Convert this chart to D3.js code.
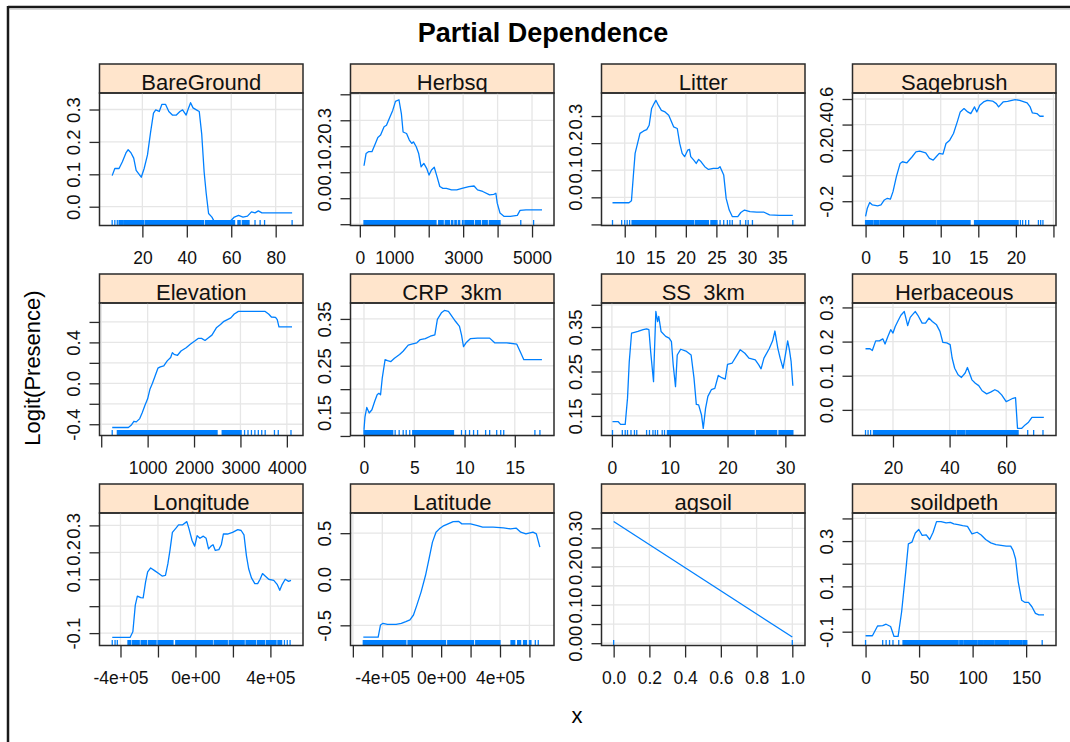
<!DOCTYPE html>
<html>
<head>
<meta charset="utf-8">
<script src="https://cdn.jsdelivr.net/npm/d3@7"></script>
<style>
  body { margin: 0; background: #fff; }
  svg { display: block; font-family: "Liberation Sans", Arial, sans-serif; }
</style>
</head>
<body>
<div id="chart"></div>
<script>
// ---- data ----
const panelNames = ["BareGround", "Herbsq", "Litter", "Sagebrush",
                    "Elevation", "CRP  3km", "SS  3km", "Herbaceous",
                    "Longitude", "Latitude", "agsoil", "soildpeth"];

const bareGroundCurve = [[6.4,0.096],[7.6,0.118],[9.5,0.118],[11,0.139],[12.6,0.166],[13.6,0.176],[14.9,0.166],[16.1,0.150],[17.2,0.112],[18.3,0.102],[19.5,0.091],[20.8,0.118],[22.3,0.160],[23.7,0.230],[25,0.289],[26,0.299],[27.6,0.294],[28.8,0.316],[30.4,0.316],[31.9,0.294],[33.5,0.283],[35.3,0.283],[36.9,0.294],[38.1,0.299],[39.7,0.283],[40.8,0.305],[41.7,0.321],[42.8,0.305],[44.3,0.299],[45.6,0.294],[46.7,0.225],[47.8,0.107],[48.7,0.043],[49.8,-0.021],[51.3,-0.032],[52.9,-0.053],[54.4,-0.046],[56,-0.051],[57.5,-0.053],[59.1,-0.048],[61.4,-0.032],[63.3,-0.027],[65.3,-0.032],[67.3,-0.029],[69.1,-0.016],[70.7,-0.019],[72.2,-0.013],[73.8,-0.019],[87.4,-0.019]];
const herbsqCurve = [[121,0.125],[181,0.172],[251,0.179],[352,0.179],[452,0.211],[523,0.234],[603,0.243],[704,0.275],[774,0.281],[874,0.313],[955,0.338],[1035,0.373],[1136,0.379],[1206,0.326],[1256,0.255],[1357,0.249],[1437,0.224],[1508,0.211],[1558,0.217],[1638,0.198],[1709,0.172],[1779,0.121],[1859,0.134],[1940,0.115],[2010,0.089],[2080,0.109],[2161,0.119],[2241,0.083],[2322,0.045],[2412,0.038],[2513,0.038],[2663,0.032],[2814,0.032],[2965,0.038],[3166,0.045],[3317,0.047],[3417,0.032],[3568,0.026],[3769,0.013],[3889,0.015],[3950,0.019],[3990,-0.019],[4070,-0.057],[4191,-0.070],[4372,-0.070],[4573,-0.066],[4653,-0.047],[4824,-0.045],[5290,-0.045]];
const litterCurve = [[8.0,-0.020],[10.7,-0.020],[11.1,-0.013],[11.4,0.076],[11.7,0.162],[12.1,0.199],[12.5,0.236],[13.1,0.245],[13.6,0.250],[14.0,0.266],[14.4,0.328],[14.8,0.346],[15.1,0.358],[15.5,0.340],[16.0,0.321],[16.6,0.315],[17.2,0.303],[17.6,0.282],[18.0,0.260],[18.6,0.254],[19.0,0.199],[19.4,0.162],[19.8,0.150],[20.3,0.174],[20.6,0.177],[20.8,0.150],[21.3,0.137],[21.7,0.125],[22.1,0.140],[22.5,0.131],[23.1,0.113],[23.7,0.103],[24.5,0.107],[25.3,0.107],[25.6,0.113],[26.2,0.082],[26.6,-0.004],[27.1,-0.047],[27.6,-0.071],[28.5,-0.071],[29.0,-0.056],[29.6,-0.047],[30.5,-0.053],[31.6,-0.055],[32.8,-0.055],[33.7,-0.065],[35.3,-0.067],[37.5,-0.067]];
const sagebrushCurve = [[0,-0.319],[0.23,-0.255],[0.55,-0.210],[0.91,-0.229],[1.6,-0.236],[2.05,-0.229],[2.5,-0.190],[2.9,-0.177],[3.3,-0.184],[3.65,-0.125],[4.1,-0.008],[4.6,0.096],[4.9,0.109],[5.5,0.101],[6.2,0.148],[6.7,0.187],[7.2,0.192],[8.0,0.179],[8.5,0.135],[9.0,0.122],[9.4,0.148],[9.8,0.174],[10.3,0.169],[10.7,0.252],[11.2,0.278],[11.7,0.330],[12.2,0.421],[12.6,0.499],[13.1,0.525],[13.6,0.499],[14.0,0.486],[14.5,0.538],[14.8,0.499],[15.2,0.551],[15.7,0.577],[16.2,0.590],[16.9,0.584],[17.4,0.564],[17.7,0.538],[18.3,0.577],[18.9,0.582],[19.9,0.595],[20.5,0.590],[21.5,0.569],[21.9,0.538],[22.2,0.491],[22.8,0.486],[23.2,0.465],[23.7,0.465]];
const elevationCurve = [[237,-0.432],[385,-0.432],[585,-0.432],[644,-0.41],[704,-0.371],[756,-0.377],[830,-0.345],[881,-0.29],[941,-0.216],[1000,-0.152],[1052,-0.055],[1104,0.0],[1163,0.074],[1222,0.148],[1274,0.161],[1348,0.171],[1422,0.219],[1496,0.252],[1533,0.3],[1570,0.284],[1644,0.274],[1719,0.316],[1830,0.348],[1919,0.381],[2015,0.413],[2089,0.439],[2163,0.439],[2237,0.419],[2311,0.445],[2385,0.471],[2481,0.542],[2570,0.574],[2644,0.606],[2719,0.623],[2793,0.639],[2867,0.677],[2956,0.703],[3089,0.703],[3311,0.703],[3533,0.703],[3607,0.677],[3667,0.648],[3756,0.645],[3793,0.623],[3830,0.552],[3904,0.552],[4111,0.552]];
const crpCurve = [[0,0.113],[0.1,0.141],[0.28,0.161],[0.52,0.149],[0.79,0.156],[1.07,0.174],[1.31,0.188],[1.48,0.191],[1.65,0.188],[1.82,0.224],[2.1,0.263],[2.34,0.261],[2.68,0.259],[3.03,0.266],[3.54,0.274],[3.89,0.281],[4.4,0.294],[4.75,0.296],[5.26,0.299],[5.6,0.306],[6.1,0.308],[6.6,0.313],[7.05,0.316],[7.3,0.349],[7.7,0.363],[8.0,0.368],[8.4,0.366],[8.7,0.357],[9.1,0.345],[9.5,0.334],[9.7,0.316],[9.9,0.291],[10.15,0.299],[10.6,0.308],[11.3,0.309],[12.5,0.309],[13.0,0.299],[14.2,0.299],[15.2,0.296],[15.6,0.277],[15.9,0.263],[17.7,0.263]];
const ssCurve = [[0.1,0.137],[1.1,0.137],[1.5,0.131],[2.3,0.131],[2.7,0.190],[3.0,0.272],[3.4,0.336],[3.9,0.338],[4.5,0.340],[5.4,0.344],[6.0,0.346],[6.4,0.344],[6.7,0.295],[7.2,0.227],[7.3,0.272],[7.6,0.385],[7.9,0.362],[8.1,0.374],[8.5,0.340],[9.3,0.329],[9.9,0.325],[10.3,0.317],[10.6,0.265],[11.0,0.216],[11.3,0.287],[11.9,0.300],[12.8,0.296],[13.7,0.287],[14.2,0.235],[14.6,0.176],[15.0,0.175],[15.5,0.152],[15.8,0.122],[16.2,0.167],[16.6,0.194],[17.2,0.209],[17.8,0.212],[18.4,0.241],[19.0,0.236],[19.6,0.233],[20.0,0.266],[20.8,0.269],[21.5,0.284],[22.2,0.299],[23.0,0.291],[23.7,0.280],[24.8,0.276],[25.4,0.265],[25.8,0.256],[26.3,0.280],[27.2,0.301],[27.8,0.319],[28.2,0.341],[28.7,0.302],[29.1,0.280],[29.6,0.257],[30.0,0.287],[30.4,0.319],[30.7,0.299],[31.0,0.272],[31.3,0.218]];
const herbaceousCurve = [[10.3,0.179],[11.9,0.179],[12.7,0.174],[13.9,0.202],[15.2,0.202],[16.4,0.208],[17.2,0.193],[18.2,0.215],[19.2,0.235],[20.0,0.225],[20.8,0.244],[21.8,0.261],[22.8,0.277],[24.0,0.288],[25.2,0.247],[26.1,0.271],[26.9,0.279],[27.9,0.288],[28.8,0.277],[30.3,0.254],[31.5,0.254],[32.7,0.269],[33.9,0.259],[35.4,0.249],[36.6,0.230],[37.6,0.198],[39.0,0.196],[40.2,0.191],[40.9,0.152],[41.8,0.122],[43.0,0.103],[44.2,0.095],[45.5,0.108],[46.3,0.124],[47.9,0.088],[49.1,0.078],[50.3,0.071],[51.5,0.056],[53.1,0.047],[54.5,0.052],[56.0,0.059],[57.2,0.054],[58.4,0.044],[60.0,0.024],[61.2,0.029],[62.4,0.034],[63.3,0.036],[64.0,-0.054],[65.5,-0.054],[66.7,-0.044],[67.9,-0.036],[69.1,-0.022],[70.9,-0.022],[73.3,-0.022]];
const longitudeCurve = [[-4.44e5,-0.116],[-4.07e5,-0.116],[-3.49e5,-0.116],[-3.34e5,-0.095],[-3.21e5,0.004],[-3.10e5,0.037],[-2.92e5,0.032],[-2.79e5,0.031],[-2.66e5,0.090],[-2.55e5,0.127],[-2.39e5,0.142],[-2.20e5,0.133],[-1.96e5,0.121],[-1.78e5,0.112],[-1.60e5,0.114],[-1.47e5,0.158],[-1.36e5,0.207],[-1.23e5,0.274],[-1.05e5,0.289],[-0.90e5,0.302],[-0.68e5,0.302],[-0.46e5,0.314],[-0.35e5,0.289],[-0.18e5,0.244],[-0.04e5,0.223],[0.09e5,0.262],[0.24e5,0.252],[0.42e5,0.260],[0.57e5,0.252],[0.70e5,0.213],[0.83e5,0.223],[0.94e5,0.228],[1.06e5,0.207],[1.25e5,0.210],[1.38e5,0.228],[1.49e5,0.268],[1.71e5,0.268],[1.98e5,0.274],[2.26e5,0.284],[2.44e5,0.281],[2.59e5,0.265],[2.72e5,0.188],[2.84e5,0.139],[2.99e5,0.105],[3.17e5,0.084],[3.32e5,0.084],[3.45e5,0.100],[3.58e5,0.121],[3.72e5,0.112],[3.91e5,0.100],[4.18e5,0.096],[4.37e5,0.080],[4.50e5,0.059],[4.61e5,0.078],[4.79e5,0.100],[4.97e5,0.092],[5.10e5,0.096]];
const latitudeCurve = [[-5.29e5,-0.629],[-4.82e5,-0.629],[-4.28e5,-0.629],[-4.12e5,-0.496],[-3.95e5,-0.478],[-3.65e5,-0.489],[-3.06e5,-0.489],[-2.71e5,-0.478],[-2.40e5,-0.460],[-2.12e5,-0.442],[-1.88e5,-0.388],[-1.65e5,-0.281],[-1.36e5,-0.137],[-1.06e5,0.043],[-0.82e5,0.223],[-0.59e5,0.403],[-0.35e5,0.511],[-0.12e5,0.547],[0.12e5,0.576],[0.47e5,0.601],[0.82e5,0.626],[1.18e5,0.629],[1.41e5,0.601],[1.65e5,0.601],[2.0e5,0.601],[2.47e5,0.583],[2.82e5,0.565],[3.53e5,0.565],[4.24e5,0.558],[4.71e5,0.547],[5.11e5,0.554],[5.41e5,0.511],[5.76e5,0.493],[6.24e5,0.511],[6.47e5,0.493],[6.71e5,0.349]];
const agsoilCurve = [[0,0.318],[0.5,0.167],[1,0.016]];
const soildpethCurve = [[0,-0.118],[6.4,-0.118],[11.2,-0.075],[16,-0.073],[19.2,-0.067],[23.4,-0.077],[26.6,-0.121],[30.4,-0.121],[33.7,-0.012],[37.5,0.164],[40,0.288],[43.3,0.295],[46.5,0.336],[49.7,0.351],[52.9,0.325],[56.7,0.327],[59.9,0.307],[63.1,0.339],[66.3,0.386],[70.5,0.386],[75.3,0.380],[79.2,0.383],[82.4,0.376],[86.5,0.373],[90.7,0.368],[95.2,0.365],[99.4,0.332],[104.2,0.339],[108,0.327],[112.2,0.307],[117,0.292],[121.8,0.284],[126.6,0.281],[131.4,0.278],[135.6,0.278],[137.8,0.259],[140.1,0.222],[142.6,0.120],[145.8,0.039],[149,0.029],[152.2,0.029],[155.4,0.010],[158.7,-0.019],[161.9,-0.026],[166.7,-0.026]];

// rug marks: [from, to] spans of observed x (single ticks have from == to)
const bareGroundRug = [[6.4,6.4],[7.6,7.6],[8.7,8.7],[9.5,11],[11.6,20.6],[21.3,47.5],[48.4,61.5],[63,64],[65,68],[70.7,70.7],[73,73],[75,75],[87.4,87.4]];
const herbsqRug = [[121,2211],[2290,2420],[2480,2600],[2660,2700],[2760,2800],[2860,2900],[2980,3000],[3050,3300],[3360,3500],[3560,3700],[3760,4070],[4673,4673],[5045,5045]];
const litterRug = [[8,8],[9.5,9.5],[10,10],[10.4,10.4],[10.8,10.8],[11.2,21.3],[21.6,23.7],[24.1,25.1],[25.6,25.6],[26.2,26.2],[26.8,26.8],[27.2,27.2],[27.6,27.6],[28.9,28.9],[29.8,29.8],[30.2,30.2],[30.9,30.9],[37.5,37.5]];
const sagebrushRug = [[0,1.0],[1.2,1.7],[1.9,9.3],[9.5,13.9],[14.5,20.3],[20.6,20.6],[20.9,20.9],[21.3,21.3],[21.7,21.7],[23.0,23.0],[23.3,23.3],[23.6,23.6]];
const elevationRug = [[237,237],[348,2496],[2607,3015],[3089,3089],[3163,3163],[3237,3237],[3311,3311],[3385,3385],[3459,3459],[3533,3533],[3733,3733],[3815,3815],[4089,4089]];
const crpRug = [[0,2.86],[3.1,3.1],[3.5,3.5],[3.9,3.9],[4.2,4.2],[4.55,4.55],[4.85,8.9],[9.7,9.7],[10.1,10.1],[10.5,10.5],[10.9,10.9],[11.3,11.3],[12.1,12.1],[12.5,12.5],[13.2,13.2],[13.6,13.6],[13.9,13.9],[17.0,17.0],[17.5,17.5]];
const ssRug = [[0.1,0.1],[1.8,1.8],[2.3,2.3],[2.7,2.7],[3.3,3.3],[3.9,3.9],[4.3,4.3],[6,6],[6.5,6.5],[7.1,7.1],[7.5,7.5],[7.9,7.9],[8.7,8.7],[9.1,9.1],[9.6,24.6],[25.0,28.5],[28.9,31.3]];
const herbaceousRug = [[10.3,10.3],[11.2,11.2],[12.1,12.1],[13.1,42.2],[42.7,45.3],[45.8,64.2],[67.6,67.6],[69.7,69.7],[73,73]];
const longitudeRug = [[-4.44e5,-4.44e5],[-4.29e5,-4.29e5],[-4.17e5,-4.17e5],[-3.6e5,-3.45e5],[-3.35e5,-3.0e5],[-2.9e5,-2.6e5],[-2.5e5,-2.1e5],[-2.0e5,-1.2e5],[-1.05e5,0.9e5],[1.0e5,1.7e5],[1.8e5,2.6e5],[2.7e5,3.2e5],[3.3e5,3.7e5],[3.8e5,4.3e5],[4.4e5,4.6e5],[4.75e5,4.75e5],[4.9e5,4.9e5],[5.05e5,5.05e5]];
const latitudeRug = [[-5.29e5,-2.4e5],[-2.25e5,0.3e5],[0.45e5,2.2e5],[2.35e5,4.0e5],[4.75e5,5.0e5],[5.2e5,5.4e5],[5.6e5,5.8e5],[6.0e5,6.1e5],[6.4e5,6.4e5],[6.6e5,6.6e5]];
const agsoilRug = [[0,0],[1,1]];
const soildpethRug = [[0,0],[16,16],[19.2,19.2],[22.4,22.4],[25.6,25.6],[31,31],[35,86.5],[88,91],[92,98],[99,104],[105,110],[111,120],[121,126],[127,134],[135,140],[141,146],[147,150.6],[165,165]];

const curves = [bareGroundCurve, herbsqCurve, litterCurve, sagebrushCurve,
                elevationCurve, crpCurve, ssCurve, herbaceousCurve,
                longitudeCurve, latitudeCurve, agsoilCurve, soildpethCurve];
const rugs = [bareGroundRug, herbsqRug, litterRug, sagebrushRug,
              elevationRug, crpRug, ssRug, herbaceousRug,
              longitudeRug, latitudeRug, agsoilRug, soildpethRug];

// axis ranges and ticks (free scales per panel)
const xDomains = [[0.7,92.3],[-271,5638],[6.2,39.5],[-1.74,25.34],
                  [-37,4348],[-1.34,18.9],[-1.8,33.4],[5.7,77.6],
                  [-5.12e5,5.74e5],[-6.16e5,7.67e5],[-0.068,1.071],[-12.2,177.9]];
const yDomains = [[-0.058,0.351],[-0.105,0.405],[-0.104,0.385],[-0.39,0.647],
                  [-0.51,0.785],[0.101,0.384],[0.106,0.404],[-0.075,0.313],
                  [-0.146,0.346],[-0.719,0.719],[-0.006,0.34],[-0.161,0.424]];
const xTickValues = [[20,40,60,80],[0,1000,2000,3000,4000,5000],[10,15,20,25,30,35],[0,5,10,15,20,25],
                     [0,1000,2000,3000,4000],[0,5,10,15],[0,10,20,30],[20,40,60],
                     [-4e5,-2e5,0,2e5,4e5],[-6e5,-4e5,-2e5,0,2e5,4e5,6e5],[0,0.2,0.4,0.6,0.8,1],[0,50,100,150]];
const xTickLabels = [["20","40","60","80"],["0","1000","3000","5000"],["10","15","20","25","30","35"],["0","5","10","15","20"],
                     ["1000","2000","3000","4000"],["0","5","10","15"],["0","10","20","30"],["20","40","60"],
                     ["-4e+05","0e+00","4e+05"],["-4e+05","0e+00","4e+05"],["0.0","0.2","0.4","0.6","0.8","1.0"],["0","50","100","150"]];
const yTickValues = [[0,0.1,0.2,0.3],[-0.1,0,0.1,0.2,0.3,0.4],[-0.1,0,0.1,0.2,0.3],[-0.2,0,0.2,0.4,0.6],
                     [-0.4,-0.2,0,0.2,0.4,0.6],[0.1,0.15,0.2,0.25,0.3,0.35],[0.15,0.2,0.25,0.3,0.35,0.4],[0,0.1,0.2,0.3],
                     [-0.1,0,0.1,0.2,0.3],[-0.5,0,0.5],[0,0.05,0.1,0.15,0.2,0.25,0.3],[-0.1,0,0.1,0.2,0.3,0.4]];
const yTickLabels = [["0.0","0.1","0.2","0.3"],["0.0","0.1","0.2","0.3"],["0.0","0.1","0.2","0.3"],["-0.2","0.2","0.4","0.6"],
                     ["-0.4","0.0","0.4"],["0.15","0.25","0.35"],["0.15","0.25","0.35"],["0.0","0.1","0.2","0.3"],
                     ["-0.1","0.1","0.2","0.3"],["-0.5","0.0","0.5"],["0.00","0.10","0.20","0.30"],["-0.1","0.1","0.3"]];

// ---- layout ----
const width = 1070, height = 742;
const colLeft = 99.5, colStep = 251, panelW = 203.5;
const rowTop = 64, rowStep = 210, stripH = 29, panelH = 132.5;
const lineColor = "#0080ff", stripFill = "#ffe5cc", edge = "#2a2a2a";

const svg = d3.select("#chart")
    .append("svg")
    .attr("width", width)
    .attr("height", height);

svg.append("rect").attr("width", width).attr("height", height).attr("fill", "#fff");

// window frame
svg.append("line").attr("x1", 8).attr("x2", width).attr("y1", 7).attr("y2", 7)
    .attr("stroke", "#1a1a1a").attr("stroke-width", 2.5);
svg.append("line").attr("x1", 8).attr("x2", 8).attr("y1", 6).attr("y2", height)
    .attr("stroke", "#1a1a1a").attr("stroke-width", 2.5);
svg.append("line").attr("x1", 10).attr("x2", width).attr("y1", 9.5).attr("y2", 9.5)
    .attr("stroke", "#d8d8d8").attr("stroke-width", 1);

// titles
svg.append("text")
    .attr("x", 543).attr("y", 42)
    .attr("text-anchor", "middle")
    .style("font-size", "27px").style("font-weight", "bold")
    .text("Partial Dependence");

svg.append("text")
    .attr("transform", "translate(39.5,368) rotate(-90)")
    .attr("text-anchor", "middle")
    .style("font-size", "22px")
    .text("Logit(Presence)");

svg.append("text")
    .attr("x", 577).attr("y", 723)
    .attr("text-anchor", "middle")
    .style("font-size", "22px")
    .text("x");

const defs = svg.append("defs");

panelNames.forEach((name, i) => {
    const col = i % 4, row = Math.floor(i / 4);
    const g = svg.append("g")
        .attr("transform", `translate(${colLeft + col * colStep},${rowTop + row * rowStep})`);
    const top = stripH, bottom = stripH + panelH;

    const x = d3.scaleLinear().domain(xDomains[i]).range([0, panelW]);
    const y = d3.scaleLinear().domain(yDomains[i]).range([bottom, top]);

    // strip
    defs.append("clipPath").attr("id", `strip-${i}`)
        .append("rect").attr("width", panelW).attr("height", stripH);
    g.append("rect")
        .attr("width", panelW).attr("height", stripH)
        .attr("fill", stripFill);
    g.append("text")
        .attr("clip-path", `url(#strip-${i})`)
        .attr("x", panelW / 2).attr("y", 25.5)
        .attr("text-anchor", "middle")
        .attr("xml:space", "preserve")
        .style("white-space", "pre")
        .style("font-size", "22px")
        .attr("fill", "#111")
        .text(name);
    g.append("rect")
        .attr("width", panelW).attr("height", stripH)
        .attr("fill", "none").attr("stroke", edge).attr("stroke-width", 1.5);

    // grid
    const grid = g.append("g").attr("stroke", "#e6e6e6").attr("stroke-width", 1.3);
    grid.selectAll(".vx").data(xTickValues[i]).join("line")
        .attr("x1", d => x(d)).attr("x2", d => x(d))
        .attr("y1", top).attr("y2", bottom);
    grid.selectAll(".hy").data(yTickValues[i]).join("line")
        .attr("x1", 0).attr("x2", panelW)
        .attr("y1", d => y(d)).attr("y2", d => y(d));

    // curve
    defs.append("clipPath").attr("id", `panel-${i}`)
        .append("rect").attr("y", top).attr("width", panelW).attr("height", panelH);
    const line = d3.line().x(d => x(d[0])).y(d => y(d[1]));
    g.append("path")
        .datum(curves[i])
        .attr("clip-path", `url(#panel-${i})`)
        .attr("fill", "none")
        .attr("stroke", lineColor)
        .attr("stroke-width", 1.3)
        .attr("stroke-linejoin", "round")
        .attr("d", line);

    // rug
    g.append("g").selectAll("rect").data(rugs[i]).join("rect")
        .attr("x", d => x(d[0]) - 0.65)
        .attr("width", d => Math.max(1.3, x(d[1]) - x(d[0]) + 1.3))
        .attr("y", bottom - 5.5)
        .attr("height", 5.5)
        .attr("fill", lineColor);

    // border
    g.append("rect")
        .attr("y", top).attr("width", panelW).attr("height", panelH)
        .attr("fill", "none").attr("stroke", edge).attr("stroke-width", 1.5);

    // y axis
    const yLab = yTickLabels[i];
    const yAxis = d3.axisLeft(y)
        .tickValues(yTickValues[i])
        .tickSize(10)
        .tickFormat(v => {
            const s = yLab.find(t => Math.abs(+t - v) < 1e-9);
            return s === undefined ? "" : s;
        });
    const ya = g.append("g").call(yAxis);
    ya.select(".domain").remove();
    ya.selectAll(".tick line").attr("stroke", edge).attr("stroke-width", 1.3);
    ya.selectAll(".tick text")
        .attr("x", null).attr("dy", null)
        .attr("transform", "translate(-20,0) rotate(-90)")
        .attr("text-anchor", "middle")
        .attr("fill", "#111")
        .style("font-size", "18.5px");

    // x axis
    const xLab = xTickLabels[i];
    const xAxis = d3.axisBottom(x)
        .tickValues(xTickValues[i])
        .tickSize(12)
        .tickFormat(v => {
            const s = xLab.find(t => Math.abs(+t - v) < 1e-9);
            return s === undefined ? "" : s;
        });
    const xa = g.append("g").attr("transform", `translate(0,${bottom})`).call(xAxis);
    xa.select(".domain").remove();
    xa.selectAll(".tick line").attr("stroke", edge).attr("stroke-width", 1.3);
    xa.selectAll(".tick text")
        .attr("y", 38).attr("dy", null)
        .attr("fill", "#111")
        .style("font-size", "17.5px");
});
</script>
</body>
</html>
